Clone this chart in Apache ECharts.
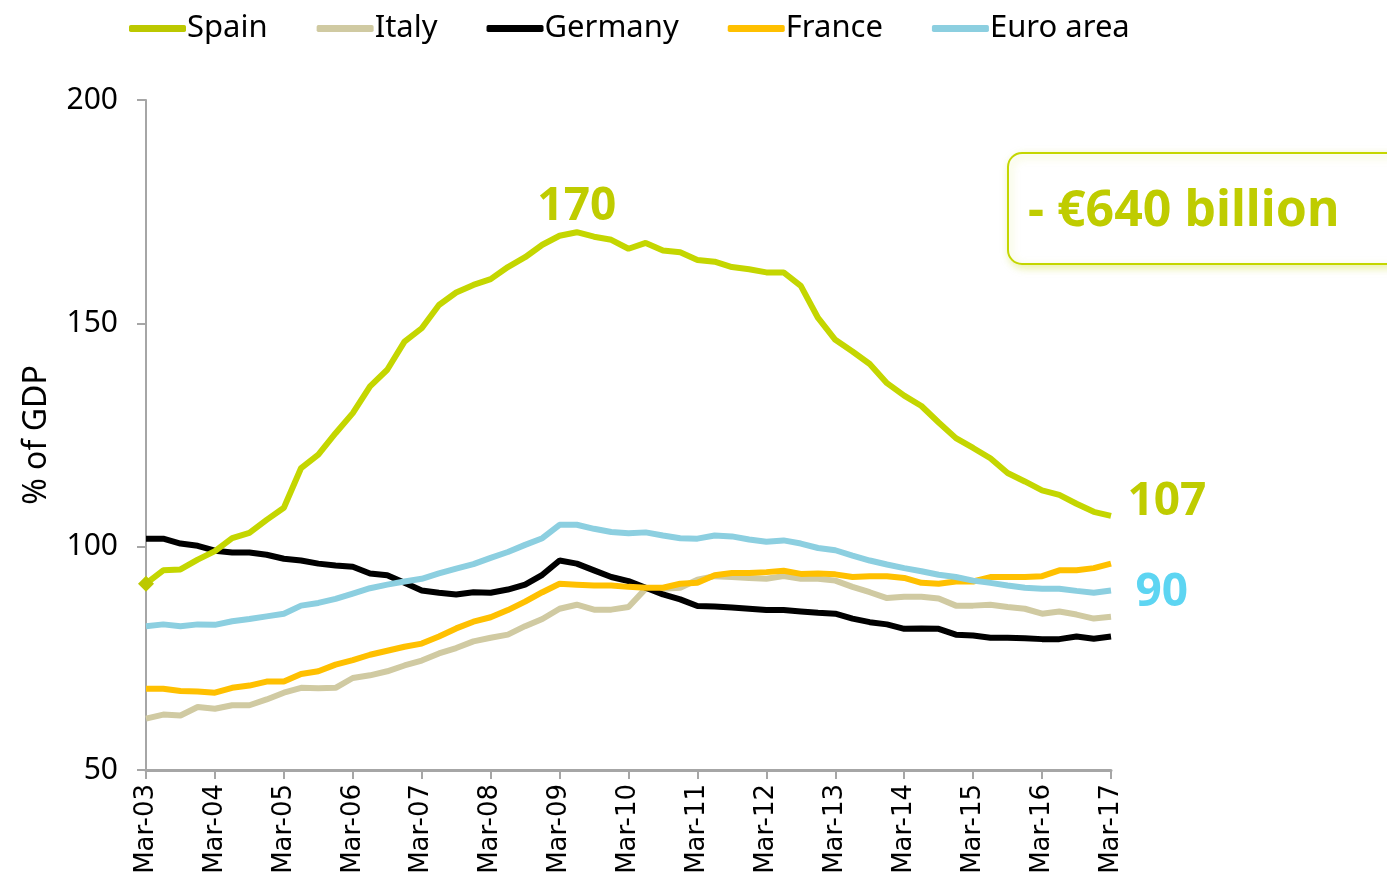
<!DOCTYPE html>
<html>
<head>
<meta charset="utf-8">
<title>Household debt, % of GDP</title>
<script src="https://cdn.jsdelivr.net/npm/echarts@6/dist/echarts.min.js"></script>
<style>
html, body { margin: 0; padding: 0; background: #fff; }
#chart { width: 1387px; height: 885px; }
</style>
</head>
<body>
<div id="chart"></div>
<script>
// quarterly labels Mar-03 .. Mar-17
var quarters = [];
var months = ['Mar', 'Jun', 'Sep', 'Dec'];
for (var y = 3; y <= 17; y++) {
    for (var m = 0; m < 4; m++) {
        if (y === 17 && m > 0) break;
        quarters.push(months[m] + '-' + (y < 10 ? '0' + y : '' + y));
    }
}

var spain = [91.7, 94.7, 94.9, 97.1, 99.0, 101.9, 103.1, 106.0, 108.7, 117.6,
    120.6, 125.4, 129.9, 135.9, 139.6, 145.9, 148.9, 154.1, 156.9, 158.6,
    159.9, 162.6, 164.8, 167.6, 169.6, 170.4, 169.4, 168.7, 166.7, 168.0,
    166.3, 165.9, 164.2, 163.8, 162.6, 162.1, 161.4, 161.4, 158.4, 151.2,
    146.3, 143.7, 140.9, 136.6, 133.8, 131.5, 127.8, 124.3, 122.1, 119.8,
    116.5, 114.6, 112.6, 111.6, 109.6, 107.8, 106.9];
var italy = [61.5, 62.4, 62.2, 64.1, 63.7, 64.5, 64.5, 65.8, 67.3, 68.4,
    68.3, 68.4, 70.6, 71.2, 72.1, 73.4, 74.5, 76.1, 77.3, 78.8,
    79.6, 80.3, 82.2, 83.8, 86.1, 87.0, 85.9, 85.9, 86.5, 90.6,
    90.6, 90.8, 92.6, 93.4, 93.2, 93.0, 92.8, 93.4, 92.8, 92.8,
    92.4, 91.0, 89.8, 88.5, 88.8, 88.8, 88.4, 86.8, 86.8, 87.0,
    86.5, 86.1, 85.0, 85.5, 84.8, 83.9, 84.3];
var germany = [101.8, 101.8, 100.7, 100.2, 99.1, 98.7, 98.7, 98.2, 97.3, 96.9,
    96.2, 95.8, 95.5, 94.0, 93.6, 91.9, 90.2, 89.7, 89.3, 89.8,
    89.7, 90.4, 91.5, 93.7, 96.9, 96.2, 94.7, 93.2, 92.3, 90.8,
    89.3, 88.2, 86.7, 86.6, 86.4, 86.1, 85.8, 85.8, 85.5, 85.2,
    85.0, 83.9, 83.1, 82.6, 81.6, 81.7, 81.6, 80.3, 80.1, 79.6,
    79.6, 79.5, 79.3, 79.3, 79.9, 79.4, 79.9];
var france = [68.2, 68.2, 67.7, 67.6, 67.3, 68.4, 68.9, 69.8, 69.8, 71.5,
    72.1, 73.6, 74.6, 75.8, 76.7, 77.6, 78.3, 79.9, 81.7, 83.2,
    84.2, 85.8, 87.7, 89.8, 91.7, 91.5, 91.3, 91.3, 91.0, 90.8,
    90.8, 91.7, 91.9, 93.6, 94.1, 94.1, 94.3, 94.6, 93.9, 94.0,
    93.8, 93.2, 93.4, 93.4, 93.0, 91.9, 91.7, 92.2, 92.2, 93.2,
    93.2, 93.2, 93.4, 94.7, 94.7, 95.2, 96.2];
var euroArea = [82.2, 82.6, 82.2, 82.6, 82.5, 83.3, 83.8, 84.4, 85.0, 86.8,
    87.4, 88.3, 89.5, 90.7, 91.5, 92.2, 92.8, 94.0, 95.1, 96.1,
    97.5, 98.8, 100.4, 101.9, 104.9, 104.9, 104.0, 103.3, 103.0, 103.2,
    102.5, 101.9, 101.8, 102.5, 102.3, 101.6, 101.1, 101.4, 100.7, 99.7,
    99.2, 98.0, 96.9, 96.0, 95.2, 94.5, 93.7, 93.2, 92.4, 91.9,
    91.3, 90.8, 90.6, 90.6, 90.1, 89.7, 90.2];

var seriesNames = ['Spain', 'Italy', 'Germany', 'France', 'Euro area'];
var colors = ['#C4D600', '#D0CAA2', '#000000', '#FFC000', '#8CCFE0'];
var yTicks = [50, 200, 50]; // min, max, interval

var lime = '#BFCC00';
var bigLabel = { fontFamily: 'Noto Sans', fontWeight: 'bold', fontSize: 46 };

function line(name, data, color, extra) {
    var s = {
        name: name,
        type: 'line',
        data: data,
        symbol: 'none',
        lineStyle: { color: color, width: 6 },
        itemStyle: { color: color },
        emphasis: { disabled: true },
        z: 2
    };
    for (var k in extra) s[k] = extra[k];
    return s;
}

var last = quarters.length - 1;
var peakIdx = spain.indexOf(Math.max.apply(null, spain));

var option = {
    animation: false,
    legend: {
        data: seriesNames,
        top: 8,
        left: 124,
        icon: 'roundRect',
        itemWidth: 57,
        itemHeight: 7,
        itemGap: 49,
        textStyle: { fontFamily: 'Noto Sans', fontSize: 31, color: '#000', padding: [0, 0, 0, -4] }
    },
    grid: { left: 146, right: 276, top: 100, bottom: 115 },
    xAxis: {
        type: 'category',
        data: quarters,
        boundaryGap: false,
        axisLine: { lineStyle: { color: '#A6A6A6', width: 3 } },
        axisTick: { interval: 3, length: 9, lineStyle: { color: '#A6A6A6', width: 2 } },
        axisLabel: {
            interval: 3, rotate: 90, margin: 14,
            fontFamily: 'DejaVu Sans', fontSize: 26, color: '#000'
        }
    },
    yAxis: {
        type: 'value',
        min: yTicks[0], max: yTicks[1], interval: yTicks[2],
        name: '% of GDP',
        nameLocation: 'middle',
        nameGap: 93,
        nameTextStyle: { fontFamily: 'Noto Sans', fontSize: 32, color: '#000' },
        splitLine: { show: false },
        axisLine: { show: true, lineStyle: { color: '#A6A6A6', width: 2 } },
        axisTick: { show: true, length: 9, lineStyle: { color: '#A6A6A6', width: 2 } },
        axisLabel: { margin: 28, fontFamily: 'Noto Sans', fontSize: 30, color: '#000' }
    },
    series: [
        line('Italy', italy, colors[1]),
        line('Germany', germany, colors[2]),
        line('France', france, colors[3]),
        line('Euro area', euroArea, colors[4], {
            markPoint: {
                symbol: 'circle', symbolSize: 1, itemStyle: { color: 'rgba(0,0,0,0)' },
                data: [{ coord: [last, euroArea[last]], value: Math.round(euroArea[last]) }],
                label: Object.assign({ color: '#5DD5F2', position: 'right', distance: 24, offset: [0, 2] }, bigLabel)
            }
        }),
        line('Spain', spain, colors[0], {
            z: 3,
            symbol: function (v, p) { return p.dataIndex === 0 ? 'diamond' : 'none'; },
            symbolSize: 16,
            showSymbol: true,
            itemStyle: { color: '#BCC800' },
            markPoint: {
                symbol: 'circle', symbolSize: 1, itemStyle: { color: 'rgba(0,0,0,0)' },
                data: [
                    { coord: [peakIdx, spain[peakIdx]], value: Math.round(spain[peakIdx]),
                      label: { position: 'top', distance: 2 } },
                    { coord: [last, spain[last]], value: Math.round(spain[last]),
                      label: { position: 'right', distance: 16, offset: [0, -14] } }
                ],
                label: Object.assign({ color: lime }, bigLabel)
            }
        })
    ],
    graphic: [
        {
            type: 'rect',
            shape: { x: 1008, y: 153, width: 420, height: 111, r: 14 },
            style: {
                fill: '#fff', stroke: '#C4D600', lineWidth: 2,
                shadowBlur: 8, shadowColor: 'rgba(196,214,0,0.35)', shadowOffsetX: 2, shadowOffsetY: 3
            },
            z: 10
        },
        {
            type: 'text',
            left: 1028, top: 187,
            style: Object.assign({ text: '- \u20ac640 billion', fill: lime }, bigLabel, { fontSize: 50 }),
            z: 11
        }
    ]
};

var myChart = echarts.init(document.getElementById('chart'));
myChart.setOption(option);
</script>
</body>
</html>
